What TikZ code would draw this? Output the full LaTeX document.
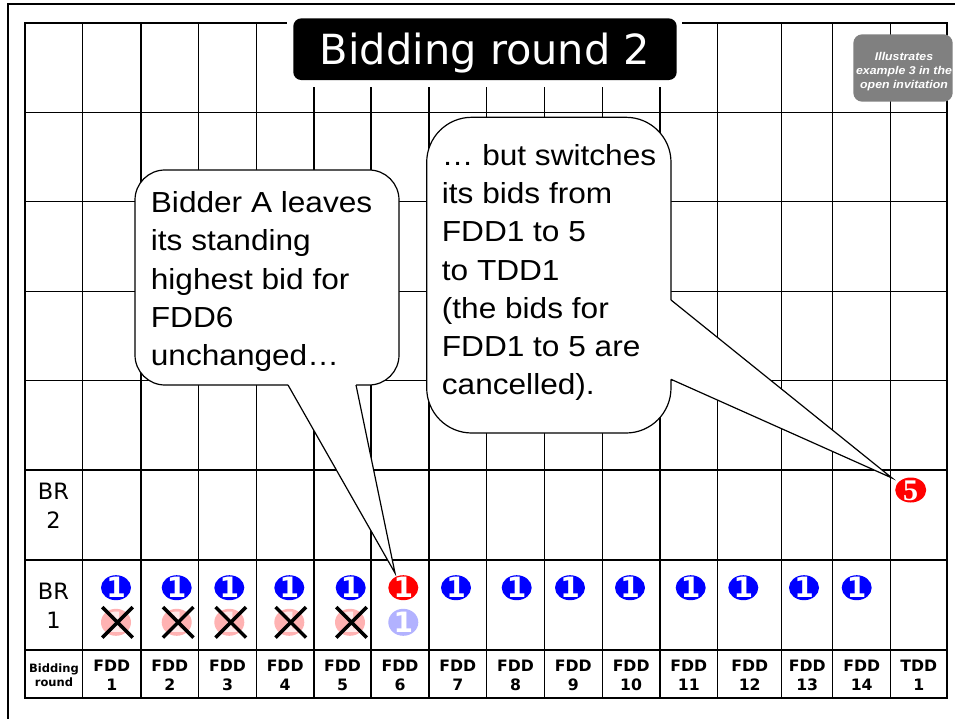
\documentclass[tikz,border=0pt]{standalone}
\usepackage{fontspec}
\setmainfont{DejaVu Sans}
\newfontfamily\callfont[FakeStretch=1.09]{Liberation Sans}
\newfontfamily\numserif{Liberation Serif}
\usetikzlibrary{shapes.geometric,shapes.misc}
\definecolor{badgegray}{RGB}{128,128,128}
\begin{document}
\begin{tikzpicture}[x=1pt,y=-1pt,
  gridline/.style={line width=1.4pt},
  tableborder/.style={line width=2.8pt},
  frameline/.style={line width=2.6pt},
  titlebox/.style={fill=black, rounded corners=8pt, text=white, minimum width=383.4pt, minimum height=61.7pt, inner sep=0pt, font=\fontsize{41.5}{41.5}\selectfont, text height=30.2pt, text depth=0pt},
  badge/.style={fill=badgegray, rounded corners=9pt, minimum width=99.4pt, minimum height=67.4pt, inner sep=0pt},
  badgetext/.style={text=white, align=center, inner sep=0pt, font=\callfont\bfseries\itshape\fontsize{11.3}{14}\selectfont},
  brlab/.style={anchor=north, align=center, inner sep=0pt, font=\fontsize{22.5}{29}\selectfont},
  collab/.style={anchor=north, align=center, inner sep=0pt, font=\bfseries\fontsize{15.7}{18.5}\selectfont},
  roundlab/.style={anchor=north, align=center, inner sep=0pt, font=\bfseries\fontsize{11.5}{13.5}\selectfont},
  calloutbox/.style={draw, fill=white, line width=1.2pt, inner sep=0pt},
  calloutline/.style={line width=1.2pt, line join=miter},
  calltext/.style={anchor=north west, align=left, inner sep=0pt, font=\callfont\fontsize{29}{38.2}\selectfont},
  digit/.style={inner sep=0pt, text height=20.4pt, text depth=0pt, font=\bfseries\fontsize{28}{28}\selectfont},
  markbase/.style={ellipse, minimum width=30pt, minimum height=25pt, inner sep=0pt},
  bidmark/.style={markbase, fill=blue, label={[digit, text=white]center:1}},
  redmark/.style={markbase, fill=red, label={[digit, text=white]center:1}},
  fadered/.style={markbase, minimum height=27pt, fill=red!30, label={[digit, text=red!8]center:1}},
  fadeblue/.style={markbase, minimum height=27pt, fill=blue!30, label={[digit, text=white]center:1}},
  fivemark/.style={markbase, minimum width=31pt, minimum height=25pt, fill=red, label={[inner sep=0pt, text height=20.3pt, text depth=0pt, text=white, font=\numserif\bfseries\fontsize{30}{30}\selectfont]center:5}},
  xcross/.style={draw, cross out, line width=3.5pt, minimum width=27pt, minimum height=27pt, inner sep=0pt}
]
\useasboundingbox (0,0) rectangle (955,719);
\fill[white] (0,0) rectangle (955,719);

% outer frame
\draw[frameline] (8,719) -- (8,4) -- (955,4);

% grid
\foreach \x in {82.7,141,198.7,256.3,314,371,429,486.7,544.3,602.3,660,717.7,781.7,832.7,890.7}
  \draw[gridline] (\x,23) -- (\x,698);
\foreach \y in {112.3,201.7,291.7,380.7,470,560,650}
  \draw[gridline] (25,\y) -- (947,\y);
\draw[tableborder] (25,23) rectangle (947,698);

% title
\fill[white] (286.7,12) rectangle (681.7,86.7);
\node[titlebox] (title) at (485,49.2) {Bidding round 2};

% badge
\node[badge] (badge) at (903,68) {};
\node[badgetext] (badgetxt) at (904,71.5) {Illustrates\\example 3 in the\\open invitation};

% callout 1
\coordinate (tip1) at (395,573);
\node[calloutbox, minimum width=264pt, minimum height=215pt, rounded corners=30pt] (c1) at (267,277.5) {};
\fill[white] (288,382) -- (288,385) -- (tip1) -- (356,385) -- (356,382) -- cycle;
\draw[calloutline] (288,385) -- (tip1) -- (356,385);
\node[calltext] (t1) at (150.7,191.5) {Bidder A leaves\\its standing\\highest bid for\\FDD6\\unchanged…};

% callout 2
\coordinate (tip2) at (892,478);
\node[calloutbox, minimum width=244.3pt, minimum height=315.7pt, rounded corners=45pt] (c2) at (548.85,275.15) {};
\fill[white] (668,300) -- (671,300) -- (tip2) -- (671,379.3) -- (668,379.3) -- cycle;
\draw[calloutline] (671,300) -- (tip2) -- (671,379.3);
\node[calltext] (t2) at (441.7,144.2) {… but switches\\its bids from\\FDD1 to 5\\to TDD1\\(the bids for\\FDD1 to 5 are\\cancelled).};

% row labels
\node[brlab] (br2) at (53.5,482.6) {BR\\2};
\node[brlab] (br1) at (53.5,582.9) {BR\\1};
\node[roundlab] (brl) at (54,664) {Bidding\\round};

% column labels
\foreach \n/\x in {1/111.85,2/169.85,3/227.5,4/285.15,5/342.5,6/400,7/457.85,8/515.5,9/573.3,10/631.15,11/688.85,12/749.7,13/807.2,14/861.7}
  \node[collab] (lab\n) at (\x,660) {FDD\\\n};
\node[collab] (labT) at (918.85,660) {TDD\\1};

% BR1 markers
\foreach \n/\x in {1/116,2/176.7,3/229.3,4/289.3,5/350.7,7/456,8/516.7,9/570,10/630,11/690.7,12/743.3,13/804,14/856.7}
  \node[bidmark] (b\n) at (\x,587.7) {};
\node[redmark] (b6) at (403.3,587.7) {};

% faded (cancelled) bids
\foreach \n/\x in {1/116,2/176.7,3/229.3,4/289.3,5/350}
  {\node[fadered] (f\n) at (\x,622.3) {};
   \node[xcross] (x\n) at (\x+1.5,622.3) {};}
\node[fadeblue] (f6) at (403.3,622.3) {};

% BR2 marker
\node[fivemark] (t5) at (910.7,490) {};
\end{tikzpicture}
\end{document}
